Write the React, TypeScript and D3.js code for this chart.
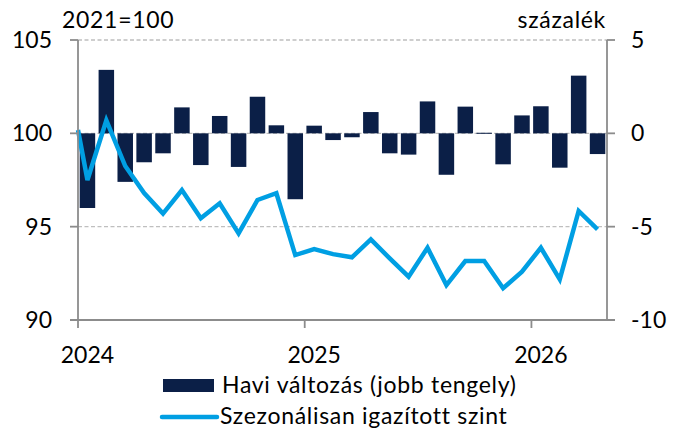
import React from "react";
import * as d3 from "d3";

const categories = [
  "2024-01","2024-02","2024-03","2024-04","2024-05","2024-06","2024-07","2024-08","2024-09","2024-10","2024-11","2024-12",
  "2025-01","2025-02","2025-03","2025-04","2025-05","2025-06","2025-07","2025-08","2025-09","2025-10","2025-11","2025-12",
  "2026-01","2026-02","2026-03","2026-04",
];
const monthlyChange = [
  -4.0, 3.4, -2.6, -1.55, -1.07, 1.39, -1.7, 0.93, -1.8, 1.96, 0.43, -3.53,
  0.41, -0.36, -0.21, 1.14, -1.07, -1.14, 1.71, -2.22, 1.43, 0.03, -1.66, 0.96,
  1.45, -1.84, 3.09, -1.11,
];
const levelStart = 100.18;
const seasonalLevel = [
  97.5, 100.7, 98.25, 96.8, 95.7, 96.96, 95.45, 96.25, 94.64, 96.43, 96.79, 93.48,
  93.8, 93.53, 93.36, 94.32, 93.3, 92.32, 93.87, 91.87, 93.16, 93.16, 91.7, 92.59,
  93.87, 92.18, 95.84, 94.86,
];
const leftTicks = [90, 95, 100, 105];
const rightTicks = [-10, -5, 0, 5];
const yearLabels = [
  { cat: "2024-01", label: "2024" },
  { cat: "2025-01", label: "2025" },
  { cat: "2026-01", label: "2026" },
];
const gridLevels = [95, 100, 105];

const FONT = "Lato, 'Open Sans', sans-serif";
const FS = 23;
const LS = 0.7;
const BAR = "#0b1f47";
const LINE = "#009fe3";
const AXIS = "#8c8c8c";

export default function App() {
  const L = 78, R = 607, T = 40, B = 320;
  const x = d3.scaleBand<string>().domain(categories).range([L, R]).padding(0);
  const bw = x.bandwidth();
  const yL = d3.scaleLinear().domain([90, 105]).range([B, T]);
  const yR = d3.scaleLinear().domain([-10, 5]).range([B, T]);

  const pts: [number, number][] = [
    [x.range()[0], yL(levelStart)],
    ...seasonalLevel.map((v, i) => [(x(categories[i]) as number) + bw / 2, yL(v)] as [number, number]),
  ];
  const lineGen = d3.line<[number, number]>().x(d => d[0]).y(d => d[1]);

  return (
    <svg width={684} height={431} style={{ position: "absolute", left: 0, top: 0, background: "#fff" }} fontFamily={FONT}>
      {gridLevels.map(g => (
        <line key={g} x1={L} x2={R} y1={yL(g)} y2={yL(g)} stroke="#bfbfbf" strokeWidth={1.3} strokeDasharray="4 2.5" />
      ))}
      {monthlyChange.map((v, i) => {
        const y0 = yR(0), y1 = yR(v);
        return (
          <rect key={i} x={(x(categories[i]) as number) + bw * 0.09} width={bw * 0.82}
            y={Math.min(y0, y1)} height={Math.max(Math.abs(y1 - y0), 1)} fill={BAR} />
        );
      })}
      <path d={lineGen(pts) || ""} fill="none" stroke={LINE} strokeWidth={4.5} strokeLinejoin="miter" />
      <line x1={L} x2={L} y1={T} y2={B} stroke={AXIS} strokeWidth={1.8} />
      <line x1={R} x2={R} y1={T} y2={B} stroke={AXIS} strokeWidth={1.8} />
      <line x1={L - 8} x2={R + 8} y1={B} y2={B} stroke={AXIS} strokeWidth={1.8} />
      {leftTicks.map(t => (
        <g key={t}>
          <line x1={L - 8} x2={L} y1={yL(t)} y2={yL(t)} stroke={AXIS} strokeWidth={1.8} />
          <text x={52} y={yL(t) + 8} textAnchor="end" fontSize={FS} fill="#000">{t}</text>
        </g>
      ))}
      {rightTicks.map(t => (
        <g key={t}>
          <line x1={R} x2={R + 8} y1={yR(t)} y2={yR(t)} stroke={AXIS} strokeWidth={1.8} />
          <text x={631} y={yR(t) + 8} textAnchor="start" fontSize={FS} fill="#000">{t}</text>
        </g>
      ))}
      {yearLabels.map(yl => {
        const cx = x(yl.cat) as number;
        return (
          <g key={yl.label}>
            <line x1={cx} x2={cx} y1={B} y2={B + 8} stroke={AXIS} strokeWidth={1.8} />
            <text x={cx + bw / 2} y={363} textAnchor="middle" fontSize={FS} fill="#000">{yl.label}</text>
          </g>
        );
      })}
      <text x={62} y={28} fontSize={FS} letterSpacing={LS} fill="#000">2021=100</text>
      <text x={606} y={28} textAnchor="end" fontSize={FS} letterSpacing={LS} fill="#000">százalék</text>
      <rect x={163} y={379} width={51} height={13} fill={BAR} />
      <text x={222} y={393} fontSize={FS} letterSpacing={LS} fill="#000">Havi változás (jobb tengely)</text>
      <line x1={162} x2={217} y1={417} y2={417} stroke={LINE} strokeWidth={4.5} strokeLinecap="round" />
      <text x={220} y={424} fontSize={FS} letterSpacing={LS} fill="#000">Szezonálisan igazított szint</text>
    </svg>
  );
}
